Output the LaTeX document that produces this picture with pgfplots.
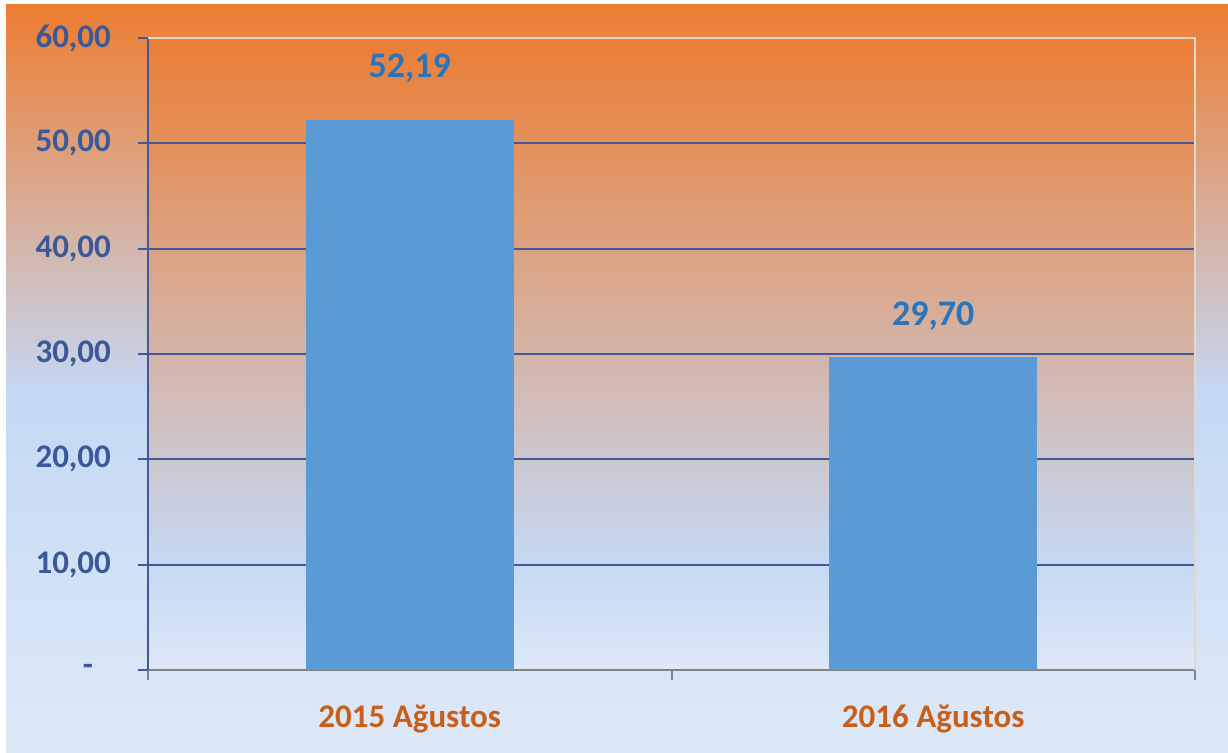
\documentclass[border=0pt]{standalone}
\usepackage{fontspec}
\setmainfont{Carlito}
\usepackage{pgfplots}
\pgfplotsset{compat=1.18}
\definecolor{bgorange}{RGB}{237,125,49}
\definecolor{bgblue}{RGB}{196,216,244}
\definecolor{bgpale}{RGB}{222,233,247}
\definecolor{plotorange}{RGB}{235,126,53}
\definecolor{plotblue}{RGB}{197,216,243}
\definecolor{plotpale}{RGB}{221,232,247}
\definecolor{barblue}{RGB}{91,155,213}
\definecolor{gridblue}{RGB}{68,88,152}
\definecolor{ticklab}{RGB}{59,89,152}
\definecolor{datalab}{RGB}{40,117,190}
\definecolor{catlab}{RGB}{200,95,25}
\definecolor{bordercol}{RGB}{225,215,205}
\definecolor{xaxiscol}{RGB}{130,130,130}
\pgfdeclareverticalshading{outerbg}{100bp}{color(0bp)=(bgpale); color(25bp)=(bgpale); color(49bp)=(bgblue); color(75bp)=(bgorange); color(100bp)=(bgorange)}
\pgfdeclareverticalshading{plotbg}{100bp}{color(0bp)=(plotpale); color(25bp)=(plotpale); color(33.7bp)=(plotblue); color(75bp)=(plotorange); color(100bp)=(plotorange)}
\begin{document}
\begin{tikzpicture}
\fill[white] (0,0) rectangle (614pt,376pt);
\shade[shading=outerbg] (3pt,0) rectangle (614pt,373.5pt);
\begin{axis}[at={(74pt,41pt)}, anchor=south west, scale only axis,
  width=523.5pt, height=316pt,
  xmin=-0.5, xmax=1.5, ymin=0, ymax=60, clip=false,
  axis background/.style={shading=plotbg},
  axis x line*=bottom, axis y line*=left,
  x axis line style={xaxiscol, line width=1pt, -},
  y axis line style={gridblue, line width=1pt, -},
  tick align=outside, major tick length=5pt,
  ytick={0,10,...,60},
  yticklabels={{\makebox[14pt][l]{\raisebox{-3.5pt}{-}}},{10,00},{20,00},{30,00},{40,00},{50,00},{60,00}},
  ymajorgrids, grid style={gridblue, line width=1.1pt},
  ytick style={gridblue, line width=1pt},
  yticklabel style={font=\bfseries\fontsize{16.5}{18}\selectfont, text=ticklab, xshift=-10pt},
  xtick={-0.5,0.5,1.5}, xticklabels={},
  xtick style={xaxiscol, line width=1pt},
  extra x ticks={0,1},
  extra x tick labels={2015 Ağustos,2016 Ağustos},
  extra x tick style={major tick length=0pt, grid=none},
  xticklabel style={font=\bfseries\fontsize{16.5}{18}\selectfont, text=catlab, yshift=-14pt},
]
\addplot[ybar, bar width=104pt, bar shift=0pt, fill=barblue, draw=none,
  nodes near coords, point meta=explicit symbolic,
  nodes near coords style={font=\bfseries\fontsize{18}{20}\selectfont, text=datalab, yshift=15.5pt}]
  coordinates {(0,52.19) [52,19]};
\addplot[ybar, bar width=104pt, bar shift=0pt, fill=barblue, draw=none,
  nodes near coords, point meta=explicit symbolic,
  nodes near coords style={font=\bfseries\fontsize{18}{20}\selectfont, text=datalab, yshift=10pt}]
  coordinates {(1,29.70) [29,70]};
\draw[bordercol, line width=1pt] (rel axis cs:0,1) -- (rel axis cs:1,1) -- (rel axis cs:1,0);
\end{axis}
\end{tikzpicture}
\end{document}
